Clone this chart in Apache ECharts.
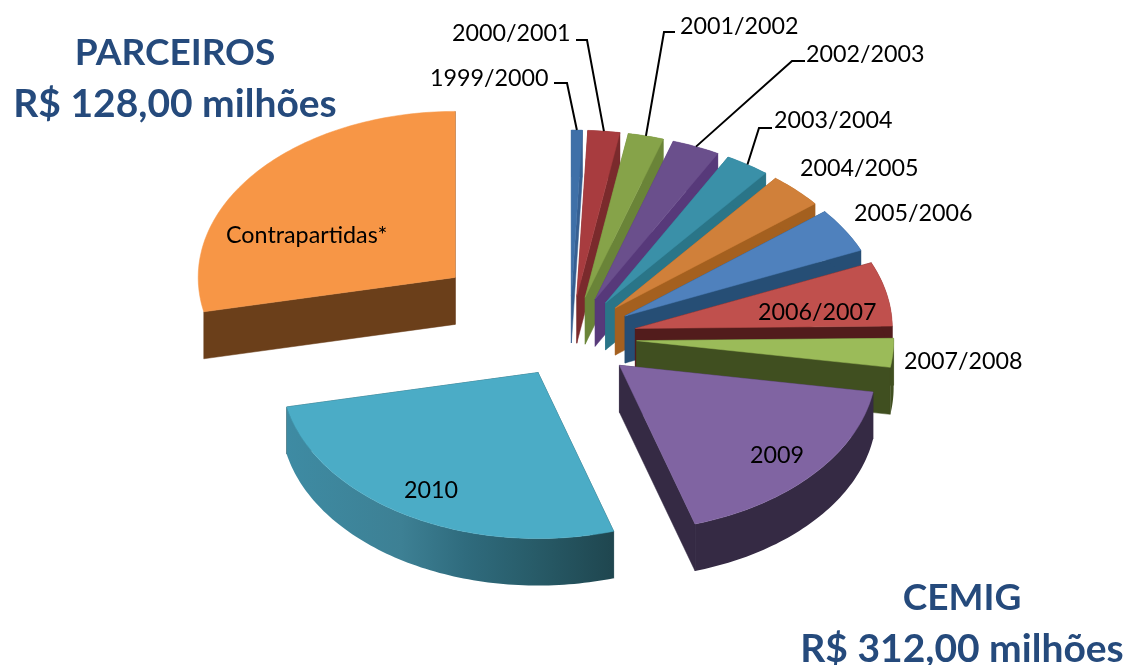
<!DOCTYPE html>
<html lang="pt-BR">
<head>
    <meta charset="UTF-8">
    <script src="https://cdn.jsdelivr.net/npm/echarts@6/dist/echarts.min.js"></script>
    <title>Investimentos</title>
    <style>
        html, body { margin: 0; padding: 0; background: #fff; }
    </style>
</head>
<body>
    <div id="main" style="width:1126px;height:665px"></div>
    <script>
        // valores em R$ milhoes (sentido horario a partir do topo)
        var categories = ['1999/2000', '2000/2001', '2001/2002', '2002/2003', '2003/2004', '2004/2005',
            '2005/2006', '2006/2007', '2007/2008', '2009', '2010', 'Contrapartidas*'];
        var values = [3.0, 8.8, 9.8, 13.2, 12.3, 15.2, 19.1, 27.5, 12.3, 77.7, 116.2, 124.5];

        var topColors = ['#3f70a8', '#a83c3f', '#86a349', '#6a4f8c', '#3a90a8', '#d0803a',
            '#4f81bd', '#c0504d', '#9bbb59', '#8064a2', '#4bacc6', '#f79646'];
        var sideColors = ['#365f91', '#7a2a2c', '#6a8438', '#57397a', '#2a7588', '#a4601f',
            '#264e75', '#521c1c', '#404f20', '#352a44', '#1f464f', '#6b3f1a'];
        var explode = [0.25, 0.25, 0.25, 0.25, 0.25, 0.25, 0.25, 0.26, 0.26, 0.255, 0.245, 0.575];

        // rotulos: posicao do texto e cotovelo da linha guia (quando existe)
        var labelPos = [
            { x: 430, y: 78, elbow: [[554, 83], [567, 83]] },
            { x: 452, y: 33, elbow: [[576, 40], [587, 40]] },
            { x: 680, y: 26, elbow: [[675, 32], [664, 32]] },
            { x: 806, y: 54, elbow: [[805, 61], [792, 61]] },
            { x: 774, y: 120, elbow: [[772, 128], [759, 128]] },
            { x: 800, y: 168 },
            { x: 854, y: 213 },
            { x: 758, y: 312 },
            { x: 904, y: 361 },
            { x: 750, y: 455 },
            { x: 404, y: 490 },
            { x: 226, y: 235 }
        ];

        var labelFont = '23.3px Lato, "Open Sans", sans-serif';
        var titleColor = '#254a7c';

        var cx = 570, cy = 337.5, rx = 257, ry = 166, depth = 47;
        var total = values.reduce(function (a, b) { return a + b; }, 0);

        var wedges = [];
        var acc = 0;
        for (var i = 0; i < values.length; i++) {
            wedges.push([i, values[i], acc]);
            acc += values[i];
        }

        function toAngle(v) {
            return v / total * 2 * Math.PI;
        }

        function onEllipse(o, t, dy) {
            return [o[0] + rx * Math.sin(t), o[1] - ry * Math.cos(t) + (dy || 0)];
        }

        function renderWedge(params, api) {
            var idx = api.value(0);
            var t0 = toAngle(api.value(2));
            var t1 = toAngle(api.value(2) + api.value(1));
            var mid = (t0 + t1) / 2;
            var e = explode[idx];
            var apex = [cx + e * rx * Math.sin(mid), cy - e * ry * Math.cos(mid)];
            var apexLow = [apex[0], apex[1] + depth];

            var n = Math.max(4, Math.ceil((t1 - t0) / 0.02));
            var arc = [], arcLow = [];
            for (var k = 0; k <= n; k++) {
                var t = t0 + (t1 - t0) * k / n;
                arc.push(onEllipse(apex, t));
                arcLow.push(onEllipse(apex, t, depth));
            }

            var sideFill = sideColors[idx];
            var children = [];
            // faces radiais
            [arc[0], arc[n]].forEach(function (p, j) {
                var low = j === 0 ? arcLow[0] : arcLow[n];
                children.push({
                    type: 'polygon',
                    shape: { points: [apex, p, low, apexLow] },
                    style: { fill: sideFill, stroke: sideFill, lineWidth: 0.5 }
                });
            });
            // parede externa (a fatia de tras nao mostra parede na figura)
            if (categories[idx] !== 'Contrapartidas*') {
                var wallFill = sideFill;
                if (categories[idx] === '2010') {
                    wallFill = new echarts.graphic.LinearGradient(0, 0, 1, 0, [
                        { offset: 0, color: '#3e8ba3' },
                        { offset: 0.35, color: '#3d8094' },
                        { offset: 0.55, color: '#2f6b7d' },
                        { offset: 0.75, color: '#285c69' },
                        { offset: 1, color: '#1f464f' }
                    ]);
                }
                children.push({
                    type: 'polygon',
                    shape: { points: arc.concat(arcLow.slice().reverse()) },
                    style: { fill: wallFill }
                });
            }
            // topo
            children.push({
                type: 'polygon',
                shape: { points: [apex].concat(arc) },
                style: { fill: topColors[idx], stroke: topColors[idx], lineWidth: 0.5 }
            });
            return { type: 'group', children: children };
        }

        function renderLabel(params, api) {
            var idx = api.value(0);
            var pos = labelPos[idx];
            var children = [];
            if (pos.elbow) {
                var t = toAngle(api.value(2) + api.value(1) / 2);
                var e = explode[idx];
                var apex = [cx + e * rx * Math.sin(t), cy - e * ry * Math.cos(t)];
                children.push({
                    type: 'polyline',
                    shape: { points: pos.elbow.concat([onEllipse(apex, t)]) },
                    style: { stroke: '#000', lineWidth: 2, fill: null }
                });
            }
            children.push({
                type: 'text',
                style: {
                    x: pos.x, y: pos.y, text: categories[idx], font: labelFont,
                    fill: '#000', textAlign: 'left', textVerticalAlign: 'middle'
                }
            });
            return { type: 'group', children: children };
        }

        function titleText(text, x, y, size) {
            return {
                type: 'text',
                style: {
                    x: x, y: y, text: text, font: 'bold ' + size + 'px Lato, "Open Sans", sans-serif',
                    fill: titleColor, textAlign: 'center', textVerticalAlign: 'middle'
                }
            };
        }

        var chart = echarts.init(document.getElementById('main'));
        chart.setOption({
            animation: false,
            backgroundColor: '#fff',
            graphic: [
                titleText('PARCEIROS', 175, 53, 37),
                titleText('R$ 128,00 milhões', 175, 104, 39),
                titleText('CEMIG', 962, 598, 37),
                titleText('R$ 312,00 milhões', 962, 649, 39)
            ],
            series: [
                {
                    type: 'custom',
                    coordinateSystem: 'none',
                    silent: true,
                    renderItem: renderWedge,
                    data: wedges
                },
                {
                    type: 'custom',
                    coordinateSystem: 'none',
                    silent: true,
                    z: 5,
                    renderItem: renderLabel,
                    data: wedges
                }
            ]
        });
    </script>
</body>
</html>
